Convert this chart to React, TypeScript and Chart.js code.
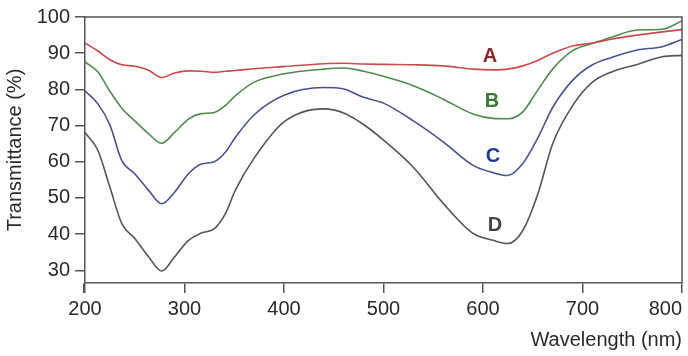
import React, { useEffect, useRef } from "react";
import { Chart, registerables } from "chart.js";

Chart.register(...registerables);

// Wavelength (nm)
const wavelengths = [200, 213, 225, 237, 250, 264, 277, 290, 304, 317, 330, 341, 351, 370, 400, 440, 460, 480, 500, 530, 560, 590, 610, 625, 640, 655, 670, 690, 710, 730, 755, 780, 800];

// Transmittance (%)
const seriesA = [92.8, 90.6, 88.2, 86.8, 86.4, 85.3, 83.3, 84.5, 85.1, 85.0, 84.7, 85.0, 85.2, 85.7, 86.3, 87.1, 87.2, 87.0, 86.9, 86.8, 86.5, 85.6, 85.4, 85.6, 86.5, 88.0, 90.0, 92.0, 92.8, 93.9, 95.0, 95.9, 96.5];
const seriesB = [87.6, 84.8, 79.5, 74.8, 71.3, 67.7, 65.1, 68.1, 71.8, 73.3, 73.6, 75.5, 78.2, 82.0, 84.3, 85.6, 85.9, 85.0, 83.6, 81.0, 77.3, 73.2, 72.0, 71.9, 73.8, 79.8, 85.6, 90.7, 92.7, 94.5, 96.4, 96.6, 98.9];
const seriesC = [79.6, 76.0, 70.2, 60.3, 56.7, 52.1, 48.4, 51.6, 56.7, 59.4, 60.0, 62.6, 66.7, 73.0, 78.4, 80.5, 80.1, 77.8, 76.2, 71.3, 65.5, 59.0, 57.0, 56.2, 59.5, 66.5, 75.0, 82.5, 86.8, 88.9, 90.9, 91.8, 93.8];
const seriesD = [68.1, 63.1, 53.0, 42.9, 38.8, 33.7, 29.8, 33.7, 38.3, 40.3, 41.5, 45.6, 52.1, 61.0, 71.0, 74.6, 73.5, 70.3, 66.0, 58.5, 48.5, 40.2, 38.3, 37.4, 41.0, 51.0, 65.0, 75.5, 82.0, 84.9, 86.9, 89.0, 89.4];

const seriesNames = ["A", "B", "C", "D"];
const lineColors = ["#cc4a4a", "#4f8a4f", "#4d5090", "#555555"];
const letterColors = ["#8a2a2e", "#3b7a3b", "#1f3b95", "#454545"];
const letterX = [607, 609, 610, 612];
const letterY = [89.0, 76.6, 61.4, 42.4];

const xTicks = [200, 300, 400, 500, 600, 700, 800];
const yTicks = [30, 40, 50, 60, 70, 80, 90, 100];

const FONT = '"Liberation Sans", Arial, Helvetica, sans-serif';

const framePlugin = {
  id: "frameAndLetters",
  afterDraw(chart: any) {
    const { ctx, chartArea, scales } = chart;
    ctx.save();
    ctx.strokeStyle = "#555555";
    ctx.lineWidth = 1.5;
    ctx.beginPath();
    ctx.moveTo(chartArea.left, chartArea.top);
    ctx.lineTo(chartArea.right, chartArea.top);
    ctx.lineTo(chartArea.right, chartArea.bottom);
    ctx.stroke();
    ctx.font = `bold 20px ${FONT}`;
    ctx.textAlign = "center";
    ctx.textBaseline = "middle";
    seriesNames.forEach((n, i) => {
      ctx.fillStyle = letterColors[i];
      ctx.fillText(n, scales.x.getPixelForValue(letterX[i]), scales.y.getPixelForValue(letterY[i]));
    });
    ctx.restore();
  },
};

export default function App() {
  const ref = useRef<HTMLCanvasElement | null>(null);
  useEffect(() => {
    document.body.style.margin = "0";
    if (!ref.current) return;
    const all = [seriesA, seriesB, seriesC, seriesD];
    const chart = new Chart(ref.current, {
      type: "line",
      data: {
        datasets: all.map((s, i) => ({
          label: seriesNames[i],
          data: wavelengths.map((w, j) => ({ x: w, y: s[j] })),
          borderColor: lineColors[i],
          borderWidth: 1.6,
          pointRadius: 0,
          fill: false,
          cubicInterpolationMode: "monotone" as const,
        })),
      },
      options: {
        animation: false,
        responsive: false,
        layout: { padding: { top: 16, right: 6, left: 0, bottom: 0 } },
        plugins: { legend: { display: false }, tooltip: { enabled: false } },
        scales: {
          x: {
            type: "linear",
            min: 200,
            max: 800,
            afterBuildTicks: (scale: any) => {
              scale.ticks = [199, ...xTicks].map((v) => ({ value: v }));
            },
            afterFit: (scale: any) => {
              scale.height = 73;
            },
            ticks: {
              align: "inner",
              padding: 4,
              color: "#2a2a2a",
              font: { family: FONT, size: 20 },
              callback: (v: any) => (xTicks.includes(Number(v)) ? String(v) : ""),
            },
            grid: { drawOnChartArea: false, drawTicks: true, tickLength: 10, color: "#555555", lineWidth: 1.5 },
            border: { color: "#555555", width: 1.5 },
            title: {
              display: true,
              text: "Wavelength (nm)",
              align: "end",
              color: "#2a2a2a",
              font: { family: FONT, size: 20 },
              padding: { top: 0, bottom: 4 },
            },
          },
          y: {
            type: "linear",
            min: 26.5,
            max: 100,
            afterBuildTicks: (scale: any) => {
              scale.ticks = yTicks.map((v) => ({ value: v }));
            },
            afterFit: (scale: any) => {
              scale.width = 85;
            },
            ticks: {
              padding: 5,
              color: "#2a2a2a",
              font: { family: FONT, size: 20 },
            },
            grid: { drawOnChartArea: false, drawTicks: true, tickLength: 10, color: "#555555", lineWidth: 1.5 },
            border: { color: "#555555", width: 1.5 },
            title: {
              display: true,
              text: "Transmittance (%)",
              color: "#2a2a2a",
              font: { family: FONT, size: 20 },
              padding: { top: 3, bottom: 0 },
            },
          },
        },
      },
      plugins: [framePlugin],
    });
    return () => chart.destroy();
  }, []);
  return <canvas ref={ref} width={688} height={356} style={{ display: "block" }} />;
}
